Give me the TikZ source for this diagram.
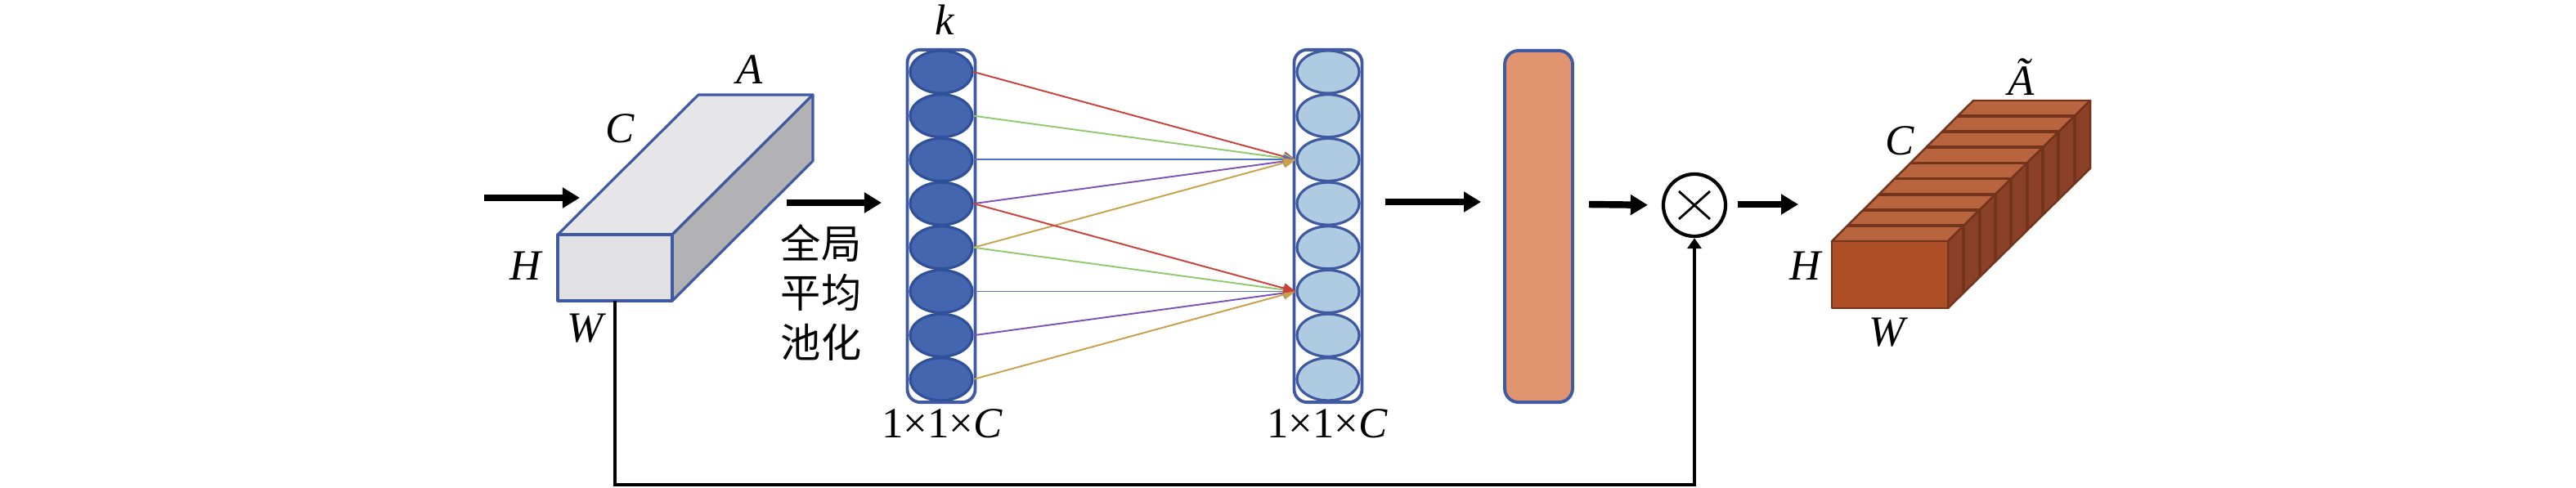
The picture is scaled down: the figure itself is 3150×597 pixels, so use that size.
\documentclass[tikz,border=0pt]{standalone}
\usepackage{fontspec}
\setmainfont{Liberation Serif}
\newfontfamily\cjk{Noto Sans CJK SC}
\usetikzlibrary{arrows.meta,shapes.geometric,calc}
\definecolor{edgeblue}{HTML}{3F5AA0}
\definecolor{darkell}{HTML}{4466AE}
\definecolor{darkelledge}{HTML}{30509A}
\definecolor{lightell}{HTML}{AFCBE2}
\definecolor{fcfill}{HTML}{E0946F}
\definecolor{grtop}{HTML}{E6E5E7}
\definecolor{grfront}{HTML}{E1E0E2}
\definecolor{grside}{HTML}{B2B1B3}
\definecolor{brtop}{HTML}{B8643F}
\definecolor{brfront}{HTML}{AD4E27}
\definecolor{brside}{HTML}{8A4127}
\definecolor{brline}{HTML}{73341C}
\definecolor{cred}{HTML}{C8423A}
\definecolor{cgreen}{HTML}{8FCB6E}
\definecolor{cblue}{HTML}{4E74C0}
\definecolor{cpurple}{HTML}{7E52B0}
\definecolor{cgold}{HTML}{C9A04C}
\begin{document}
\begin{tikzpicture}[x=0.01cm,y=-0.01cm,
  lbl/.style={inner sep=0pt,font=\fontsize{15}{18}\selectfont\itshape},
  bigarrow/.style={line width=2.4pt,-{Triangle[length=0.21cm,width=0.24cm]}},
  fb/.style={line width=1.3pt},
  colbox/.style={draw=edgeblue,line width=1.1pt,rounded corners=0.16cm,minimum width=0.83cm,minimum height=4.31cm,inner sep=0pt},
  lell/.style={ellipse,draw=darkelledge,fill=darkell,line width=0.9pt,minimum width=0.76cm,minimum height=0.52cm,inner sep=0pt},
  rell/.style={ellipse,draw=edgeblue,fill=lightell,line width=0.9pt,minimum width=0.76cm,minimum height=0.52cm,inner sep=0pt},
  cl/.style={line width=0.55pt,-{Triangle[length=0.15cm,width=0.12cm]}},
  boxedge/.style={draw=edgeblue,line width=0.9pt,line join=round},
  bredge/.style={draw=brline,line width=0.7pt,line join=round}
]
\useasboundingbox (0,0) rectangle (3150,597);

% ---------- input box ----------
\coordinate (gftl) at (682,287);
\coordinate (gftr) at (822,287);
\coordinate (gfbl) at (682,368);
\coordinate (gfbr) at (822,368);
\coordinate (gbtl) at (854,116);
\coordinate (gbtr) at (994,116);
\coordinate (gbbr) at (994,197);
\filldraw[boxedge,fill=grtop] (gftl) -- (gftr) -- (gbtr) -- (gbtl) -- cycle;
\filldraw[boxedge,fill=grside] (gftr) -- (gbtr) -- (gbbr) -- (gfbr) -- cycle;
\filldraw[boxedge,fill=grfront] (gftl) -- (gftr) -- (gfbr) -- (gfbl) -- cycle;
\node[lbl] (lA) at (917,85) {A};
\node[lbl] (lC) at (758,157) {C};
\node[lbl] (lH) at (643,325) {H};
\node[lbl] (lW) at (715,402) {W};

% input arrow
\coordinate (in0) at (592,242);
\coordinate (in1) at (709,242);
\draw[bigarrow] (in0) -- (in1);

% ---------- pooling text ----------
\node[align=center,inner sep=0pt,font=\cjk\fontsize{14}{17.2}\selectfont] (gap) at (1004,358) {全局\\平均\\池化};
\coordinate (p0) at (962,248);
\coordinate (p1) at (1078,248);
\draw[bigarrow] (p0) -- (p1);

% ---------- columns ----------
\node[colbox,fill=white] (lcol) at (1151,276.5) {};
\node[colbox,fill=white] (rcol) at (1624,276.5) {};
\foreach \i in {1,...,8} {
  \node[lell] (L\i) at (1151,{88+(\i-1)*53.7}) {};
  \node[rell] (R\i) at (1624,{88+(\i-1)*53.7}) {};
}
\node[lbl] (lk) at (1155,24) {k};
\node[inner sep=0pt,font=\fontsize{15}{18}\selectfont] (dimL) at (1152,518) {1×1×\textit{C}};
\node[inner sep=0pt,font=\fontsize{15}{18}\selectfont] (dimR) at (1623,518) {1×1×\textit{C}};

% connections
\draw[cl,cred]    (L1.east) -- (R3.west);
\draw[cl,cgreen]  (L2.east) -- (R3.west);
\draw[cl,cblue]   (L3.east) -- (R3.west);
\draw[cl,cpurple] (L4.east) -- (R3.west);
\draw[cl,cgold]   (L5.east) -- (R3.west);
\draw[cl,cgreen]  (L5.east) -- (R6.west);
\draw[cl,cblue]   (L6.east) -- (R6.west);
\draw[cl,cpurple] (L7.east) -- (R6.west);
\draw[cl,cgold]   (L8.east) -- (R6.west);
\draw[cl,cred]    (L4.east) -- (R6.west);

% ---------- fc block ----------
\coordinate (q0) at (1694,247);
\coordinate (q1) at (1811,247);
\draw[bigarrow] (q0) -- (q1);
\node[draw=edgeblue,fill=fcfill,line width=1.1pt,rounded corners=0.17cm,minimum width=0.83cm,minimum height=4.30cm,inner sep=0pt] (fc) at (1881.5,277) {};

% ---------- multiply ----------
\node[circle,draw=black,line width=1.2pt,minimum size=0.76cm,inner sep=0pt] (mul) at (2072,251) {};
\draw[line width=0.8pt] ($(mul.center)+(-19,-17)$) -- ($(mul.center)+(19,17)$);
\draw[line width=0.8pt] ($(mul.center)+(-19,17)$) -- ($(mul.center)+(19,-17)$);
\coordinate (m0) at (1943,250);
\draw[bigarrow,shorten >=0.17cm] (m0) -- (mul.west);
\coordinate (o0) at (2125,250);
\coordinate (o1) at (2199,250);
\draw[bigarrow] (o0) -- (o1);

% feedback
\coordinate (fbs) at (752,368);
\coordinate (fbc) at (752,593);
\draw[fb,-{Triangle[length=0.13cm,width=0.17cm]}] (fbs) -- (fbc) -| (mul.south);

% ---------- output box ----------
\coordinate (oftl) at (2240,295);
\coordinate (oftr) at (2382,295);
\coordinate (ofbl) at (2240,377);
\coordinate (ofbr) at (2382,377);
\coordinate (obtl) at (2413,123);
\coordinate (obtr) at (2556,123);
\coordinate (obbr) at (2556,206);
\filldraw[bredge,fill=brtop] (oftl) -- (oftr) -- (obtr) -- (obtl) -- cycle;
\filldraw[bredge,fill=brside] (oftr) -- (obtr) -- (obbr) -- (ofbr) -- cycle;
\filldraw[bredge,fill=brfront] (oftl) -- (oftr) -- (ofbr) -- (ofbl) -- cycle;
\foreach \t in {1,...,8} {
  \draw[draw=brline,line width=1.1pt]
    ($(oftl)!\t/9!(obtl)$) -- ($(oftr)!\t/9!(obtr)$) -- ($(ofbr)!\t/9!(obbr)$);
}
\node[lbl] (lAt) at (2472,94) {Ã};
\node[lbl] (lC2) at (2323,172) {C};
\node[lbl] (lH2) at (2208,325) {H};
\node[lbl] (lW2) at (2307,407) {W};
\end{tikzpicture}
\end{document}
